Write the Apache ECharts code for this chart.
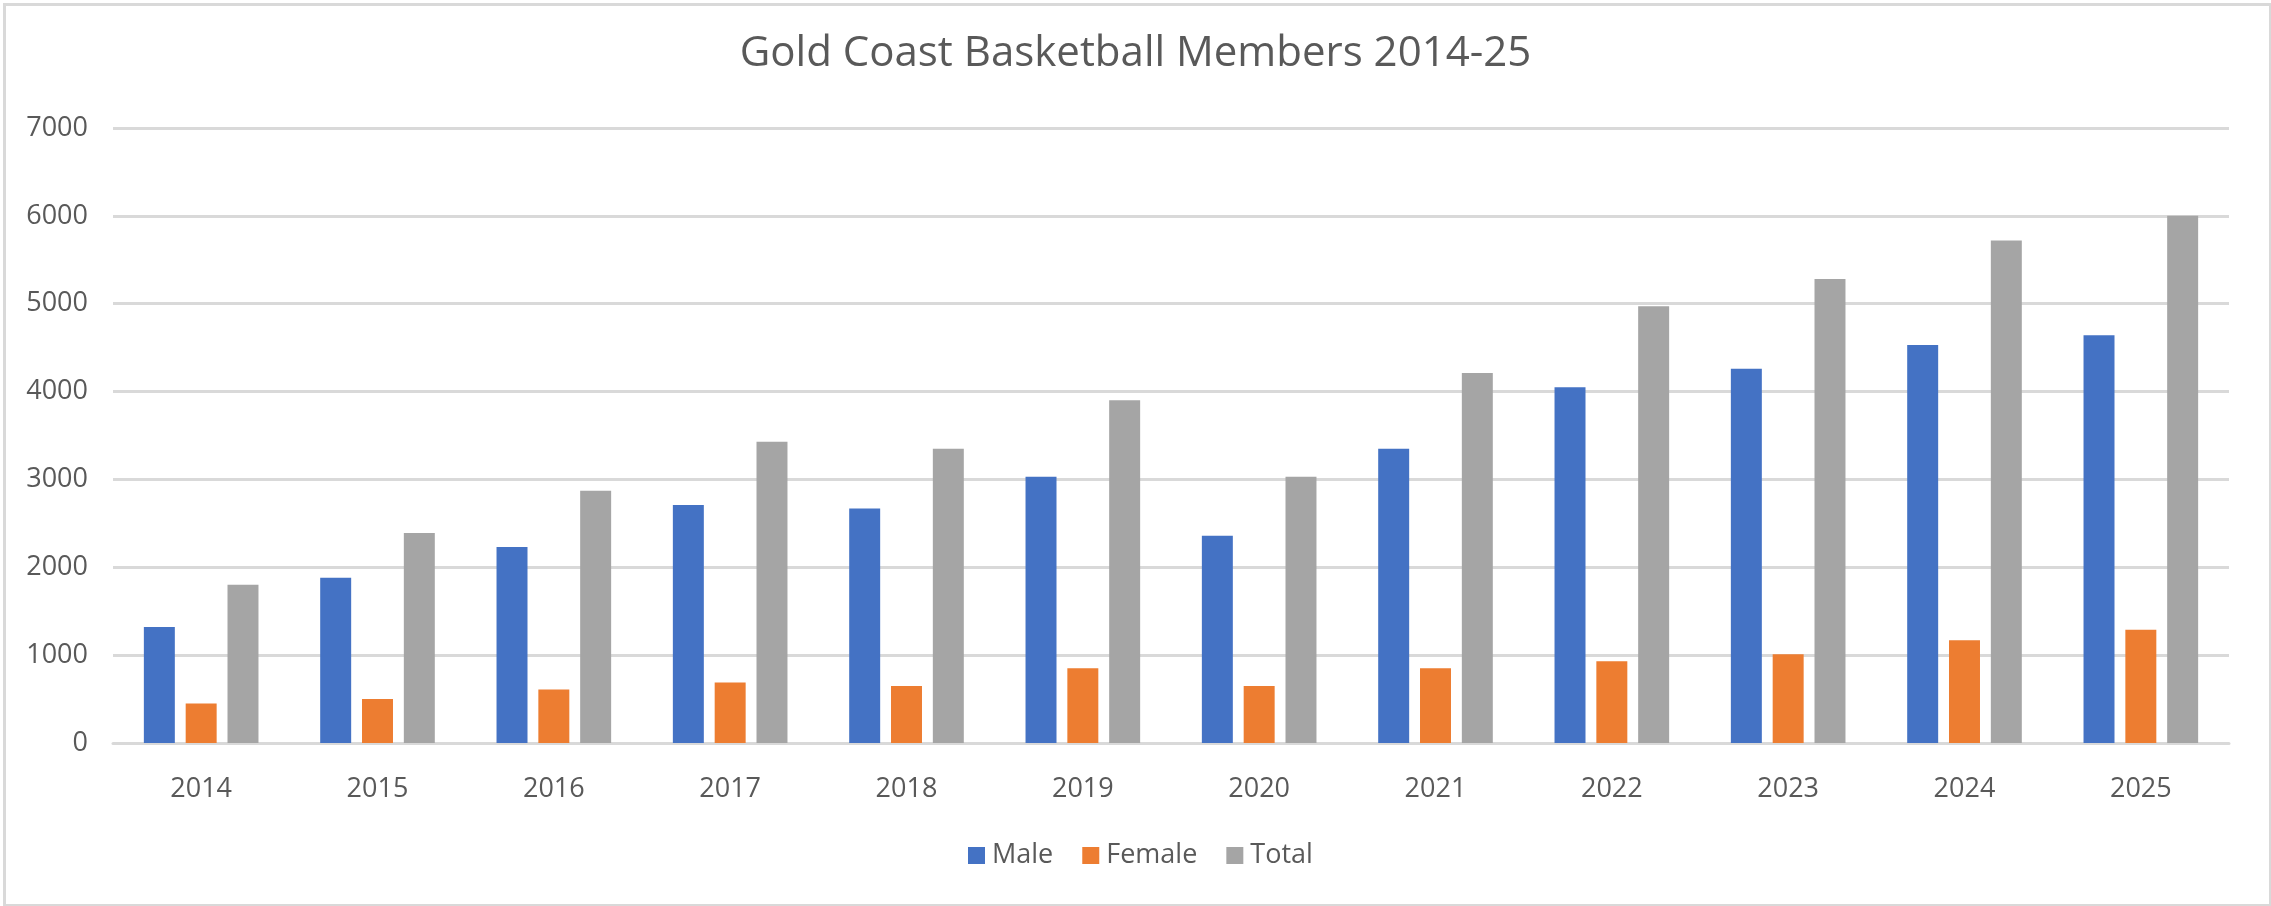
<!DOCTYPE html>
<html>
<head>
<meta charset="utf-8">
<script src="https://cdn.jsdelivr.net/npm/echarts@6/dist/echarts.min.js"></script>
<style>
html,body{margin:0;padding:0;background:#fff;}
#chart{width:2271px;height:906px;}
</style>
</head>
<body>
<div id="chart"></div>
<script>
const titleText = "Gold Coast Basketball Members 2014-25";
const categories = ["2014","2015","2016","2017","2018","2019","2020","2021","2022","2023","2024","2025"];
const maleValues   = [1320, 1880, 2230, 2710, 2670, 3030, 2360, 3350, 4050, 4260, 4530, 4640];
const femaleValues = [ 450,  500,  610,  690,  650,  850,  650,  850,  930, 1010, 1170, 1290];
const totalValues  = [1800, 2390, 2870, 3430, 3350, 3900, 3030, 4210, 4970, 5280, 5720, 6000];
const seriesNames = ["Male","Female","Total"];
const seriesColors = ["#4472C4","#ED7D31","#A5A5A5"];

const font = "'Open Sans', sans-serif";
const chart = echarts.init(document.getElementById('chart'), null, {renderer:'canvas'});
const dataArr = [maleValues, femaleValues, totalValues];
chart.setOption({
  animation:false,
  backgroundColor:'#ffffff',
  graphic:[{type:'rect',left:2,top:2,shape:{width:2266,height:901},style:{fill:'none',stroke:'#D9D9D9',lineWidth:3},silent:true}],
  title:{text:titleText,left:'center',top:33,padding:0,
    textStyle:{fontFamily:font,fontSize:42,fontWeight:'normal',color:'#595959'}},
  legend:{left:968,top:842,itemWidth:17,itemHeight:17,itemGap:29,icon:'rect',padding:0,
    textStyle:{fontFamily:font,fontSize:27,color:'#595959',padding:[0,0,0,2]},
    data:seriesNames},
  grid:{left:113,right:42,top:128,bottom:163,containLabel:false},
  xAxis:{type:'category',data:categories,
    axisLine:{show:true,lineStyle:{color:'#D9D9D9',width:3}},
    axisTick:{show:false},
    axisLabel:{fontFamily:font,fontSize:27,color:'#595959',margin:33}},
  yAxis:{type:'value',min:0,max:7000,interval:1000,
    axisLine:{show:false},axisTick:{show:false},
    splitLine:{lineStyle:{color:'#D9D9D9',width:3}},
    axisLabel:{fontFamily:font,fontSize:27,color:'#595959',margin:25,formatter:v=>String(v)}},
  series: seriesNames.map((n,i)=>({name:n,type:'bar',data:dataArr[i],
    itemStyle:{color:seriesColors[i]},barGap:'35%',barCategoryGap:'35%'}))
});
</script>
</body>
</html>
